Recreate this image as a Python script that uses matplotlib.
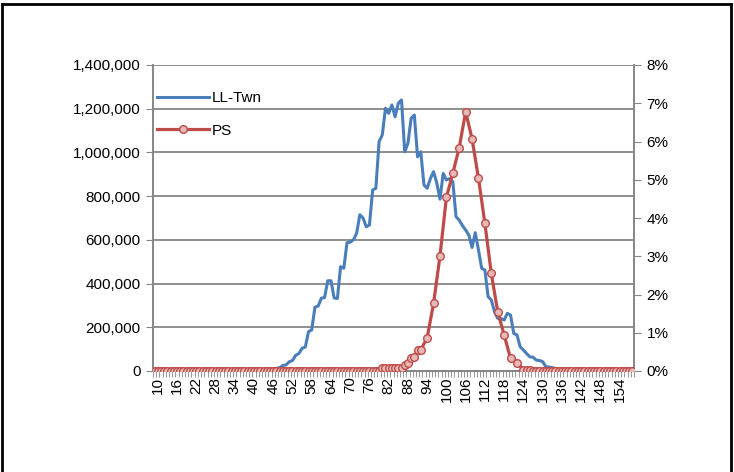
import matplotlib
matplotlib.use("Agg")
import matplotlib.pyplot as plt
from matplotlib.ticker import FuncFormatter, FixedLocator
import numpy as np

plt.rcParams['font.family'] = ['Liberation Sans', 'DejaVu Sans']

categories = list(range(9, 159))
label_cats = [c for c in categories if (c - 10) % 6 == 0 and c >= 10]

ll_twn = [0]*31 + [
    1000, 1500, 2000, 2500,            # 40-43
    3000, 5000, 8000, 12000, 15000, 25000, 28000, 42000, 48000, 72000,   # 44-53
    80000, 104000, 110000, 180000, 188000, 292000, 297000, 333000, 336000, 413000,  # 54-63
    413000, 334000, 332000, 477000, 470000, 587000, 590000, 600000, 630000, 715000,  # 64-73
    700000, 660000, 668000, 828000, 836000, 1049000, 1080000, 1202000, 1179000, 1217000,  # 74-83
    1163000, 1225000, 1240000, 1003000, 1042000, 1156000, 1171000, 980000, 1003000, 851000,  # 84-93
    836000, 880000, 912000, 860000, 786000, 904000, 874000, 880000, 866000, 706000,  # 94-103
    690000, 665000, 645000, 622000, 565000, 633000, 554000, 470000, 462000, 340000,  # 104-113
    325000, 271000, 241000, 240000, 233000, 264000, 256000, 172000, 165000, 111000,  # 114-123
    96000, 80000, 65000, 63000, 50000, 48000, 43000, 20000, 18000, 15000,  # 124-133
    12000, 9000, 6000, 4000, 3000, 2000, 1000,  # 134-140
] + [0]*18

N = None
ps = [0.0]*71 + [
    0.07, 0.07, 0.07, 0.07, 0.07, 0.07, 0.07, 0.16, 0.20, 0.35,   # 80-89
    0.37, 0.55, 0.55, N, 0.87, N, 1.77, N, 3.01, N,               # 90-99
    4.54, N, 5.17, N, 5.84, N, 6.78, N, 6.07, N,                  # 100-109
    5.04, N, 3.86, N, 2.55, N, 1.55, N, 0.94, N,                  # 110-119
    0.33, N, 0.22, N, 0.03, 0.02, 0.02, 0.01, 0.01, 0.01,         # 120-129
] + [0.0]*29

W, H = 734, 472
fig = plt.figure(figsize=(W/100, H/100), dpi=100)
ax = fig.add_axes([153/W, 1-371/H, (634-153)/W, (371-65)/H])
ax2 = ax.twinx()

x = np.arange(len(categories))
blue = '#4A7EBB'
red = '#BE4B48'
grid_c = '#868686'

ln1, = ax.plot(x, ll_twn, color=blue, lw=2.2, label='LL-Twn', zorder=3)
px = np.array([i for i, v in enumerate(ps) if v is not None])
py = np.array([v for v in ps if v is not None])
ln2, = ax2.plot(px, py, color=red, lw=2.3, marker='o', ms=5.5, mfc='#E6B9B8',
                mec=red, mew=1.0, label='PS', zorder=3)

ax.set_xlim(-0.5, len(categories)-0.5)
ax.set_ylim(0, 1400000)
ax2.set_ylim(0, 8)
ax.set_yticks(np.arange(0, 1400001, 200000))
ax2.set_yticks(np.arange(0, 9, 1))
ax.yaxis.set_major_formatter(FuncFormatter(lambda v, p: f'{int(v):,}'))
ax2.yaxis.set_major_formatter(FuncFormatter(lambda v, p: f'{int(v)}%'))

ax.set_xticks([categories.index(c) for c in label_cats])
ax.set_xticklabels([str(c) for c in label_cats], rotation=90)
ax.xaxis.set_minor_locator(FixedLocator(np.arange(-0.5, len(categories), 1)))
ax.tick_params(axis='x', which='major', length=0, pad=4, labelsize=11)
ax.tick_params(axis='x', which='minor', length=4, color=grid_c, direction='out')
ax.tick_params(axis='y', length=5, color=grid_c, labelsize=11, pad=4)
ax2.tick_params(axis='y', length=5, color=grid_c, labelsize=11, pad=4)

ax.grid(axis='y', color=grid_c, lw=1.3)
ax.set_axisbelow(True)
for a in (ax, ax2):
    a.spines['top'].set_visible(False)
    for s in ('left', 'right', 'bottom'):
        a.spines[s].set_color(grid_c)
        a.spines[s].set_linewidth(1.2)
ax.patch.set_visible(False)

leg = ax.legend(handles=[ln1, ln2], loc='upper left', bbox_to_anchor=(-0.005, 0.935),
                frameon=False, fontsize=11, handlelength=3.4, labelspacing=1.22,
                handletextpad=0.2, borderaxespad=0.0)

# chart-area border (cropped)
fig.add_artist(plt.Line2D([2/W, 2/W], [0, 1-4/H], color='black', lw=2, transform=fig.transFigure))
fig.add_artist(plt.Line2D([731/W, 731/W], [0, 1-4/H], color='black', lw=2, transform=fig.transFigure))
fig.add_artist(plt.Line2D([2/W, 731/W], [1-4/H, 1-4/H], color='black', lw=2, transform=fig.transFigure))

fig.savefig('out.png', dpi=100)
